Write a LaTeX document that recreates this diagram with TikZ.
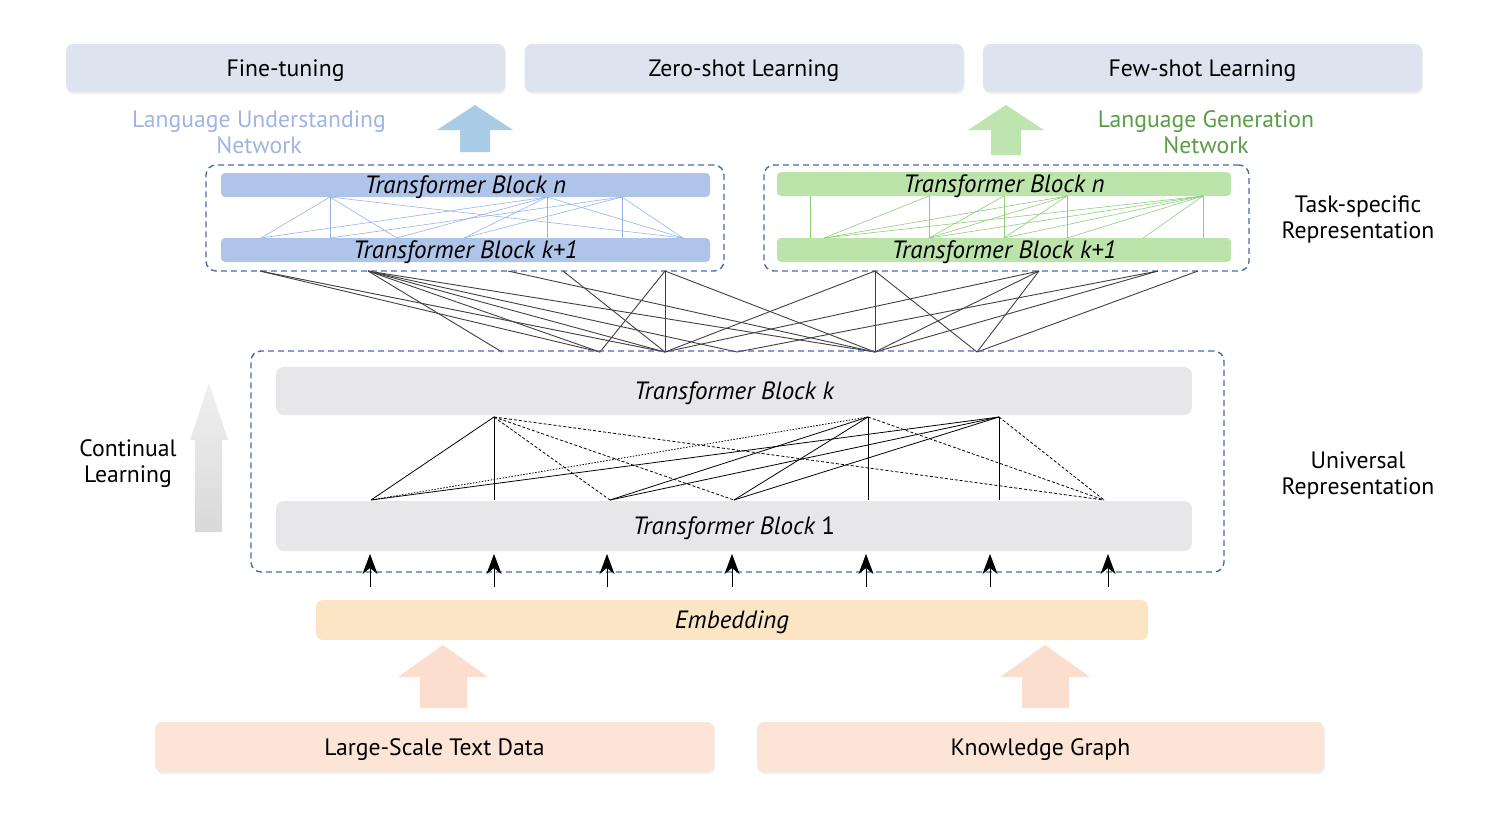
\documentclass[tikz,border=0pt]{standalone}
\usepackage{fontspec}
\setmainfont{PT Sans}
\usetikzlibrary{arrows.meta,shadows}
\definecolor{taskfill}{RGB}{221,228,240}
\definecolor{lutext}{RGB}{160,180,225}
\definecolor{luarrow}{RGB}{168,204,230}
\definecolor{lgtext}{RGB}{88,158,68}
\definecolor{lgarrow}{RGB}{190,228,175}
\definecolor{bluebar}{RGB}{174,196,232}
\definecolor{blueline}{RGB}{150,180,232}
\definecolor{greenbar}{RGB}{188,228,170}
\definecolor{greenline}{RGB}{140,205,120}
\definecolor{dashblue}{RGB}{70,108,168}
\definecolor{graybar}{RGB}{231,231,233}
\definecolor{embfill}{RGB}{251,229,196}
\definecolor{peach}{RGB}{252,222,206}
\definecolor{datafill}{RGB}{252,228,214}
\tikzset{
  softshadow/.style={drop shadow={opacity=0.12, shadow xshift=1pt, shadow yshift=-2pt}},
  centred/.style={text height=22pt, text depth=5pt},
  taskbox/.style={fill=taskfill, rounded corners=7pt, minimum width=439pt, minimum height=48pt, centred, softshadow},
  databox/.style={fill=datafill, rounded corners=7pt, minimum height=50pt, centred, softshadow},
  dashbox/.style={draw=dashblue, line width=1.4pt, dash pattern=on 6pt off 4pt, rounded corners=10pt},
  bar/.style={rounded corners=4pt, inner ysep=-0.5pt, text height=21pt, text depth=4pt, font=\fontsize{25}{28}\selectfont\itshape},
  graybox/.style={fill=graybar, rounded corners=8pt, minimum width=916pt, centred, font=\fontsize{25}{28}\selectfont\itshape},
  caption/.style={align=center, font=\fontsize{23.7}{26}\selectfont},
  cross/.style={draw=black!75, line width=0.9pt},
  unidash/.style={dash pattern=on 3pt off 2pt},
  unidot/.style={dash pattern=on 1.5pt off 1.5pt}
}
\begin{document}
\begin{tikzpicture}[x=1pt, y=-1pt, >=Stealth, line join=round, font=\fontsize{23.7}{28}\selectfont]
\useasboundingbox (0,0) rectangle (1496,828);
%% Tasks
\node[taskbox] (ft) at (285.5,68) {Fine-tuning};
\node[taskbox] (zs) at (744,68) {Zero-shot Learning};
\node[taskbox] (fs) at (1202.5,68) {Few-shot Learning};
\node[caption, text=lutext] (lu) at (259,132) {Language Understanding\\Network};
\node[caption, text=lgtext] (lg) at (1206,132) {Language Generation\\Network};
\fill[luarrow] (475,105) -- (513,130) -- (490,130) -- (490,152) -- (460,152) -- (460,130) -- (437,130) -- cycle;
\fill[lgarrow] (1006,105) -- (1044,130) -- (1021,130) -- (1021,155) -- (991,155) -- (991,130) -- (968,130) -- cycle;
%% Task-specific networks
\node[dashbox, minimum width=518pt, minimum height=106pt] (lunet) at (465,218) {};
\node[dashbox, minimum width=485pt, minimum height=106pt] (lgnet) at (1006.5,218) {};
\node[bar, fill=bluebar, minimum width=489pt, minimum height=24pt] (lun) at (465.5,185) {Transformer Block \textit{n}};
\node[bar, fill=bluebar, minimum width=489pt, minimum height=24pt] (luk) at (465.5,250) {Transformer Block \textit{k+1}};
\node[bar, fill=greenbar, minimum width=454pt, minimum height=24pt] (lgn) at (1004,184) {Transformer Block \textit{n}};
\node[bar, fill=greenbar, minimum width=454pt, minimum height=24pt] (lgk) at (1004,250) {Transformer Block \textit{k+1}};
\foreach \x in {330,547,622} \coordinate (lt\x) at (\x,197);
\foreach \x in {261,330,397,464,547,622,683} \coordinate (lb\x) at (\x,238);
\foreach \a/\b in {330/261,330/330,330/397,330/683,547/261,547/397,547/464,547/547,547/683,622/330,622/464,622/622,622/683}
  \draw[blueline, line width=0.6pt] (lt\a) -- (lb\b);
\foreach \x in {810,929,1004,1067,1203} \coordinate (gt\x) at (\x,196);
\foreach \x in {810,824,929,1004,1067,1143,1203} \coordinate (gb\x) at (\x,238);
\foreach \a/\b in {810/810,929/824,929/929,1004/929,1004/1004,1067/824,1067/929,1067/1004,1067/1067,1203/824,1203/929,1203/1004,1203/1067,1203/1143,1203/1203}
  \draw[greenline, line width=0.6pt] (gt\a) -- (gb\b);
\node[caption] (tsr) at (1358,219) {Task-specific\\Representation};
%% Links between the two levels
\foreach \x in {260,368,508,563,665,875,1039,1158,1198} \coordinate (t\x) at (\x,271);
\foreach \x in {502,600,665,737,875,977} \coordinate (b\x) at (\x,352);
\foreach \a/\b in {260/600,260/665,368/502,368/600,368/665,368/737,368/875,508/875,563/665,665/600,665/665,665/875,875/665,875/875,875/977,1039/665,1039/875,1039/977,1158/737,1158/875,1198/977}
  \draw[cross] (t\a) -- (b\b);
%% Universal network
\node[dashbox, minimum width=973pt, minimum height=221pt] (uni) at (737.5,461.5) {};
\node[graybox, minimum height=48pt] (blk) at (734,391) {Transformer Block \textit{k}};
\node[graybox, minimum height=50pt] (bl1) at (734,526) {Transformer Block \upshape 1};
\foreach \x in {494,868,999} \coordinate (ut\x) at (\x,417);
\foreach \x in {371,494,610,734,868,999,1104} \coordinate (ub\x) at (\x,500);
\foreach \a/\b/\s in {494/371/solid,494/494/solid,494/610/unidash,494/734/unidash,494/1104/unidash,
  868/371/unidot,868/610/solid,868/734/solid,868/868/solid,868/1104/unidash,
  999/371/solid,999/610/solid,999/734/solid,999/999/solid,999/1104/unidash}
  \draw[black, line width=0.8pt, \s] (ut\a) -- (ub\b);
\node[caption] (ur) at (1358,475) {Universal\\Representation};
\node[caption] (cl) at (128,464) {Continual\\Learning};
\shade[top color=gray!12, bottom color=gray!30] (209,383) -- (228,440) -- (222,440) -- (222,532) -- (195,532) -- (195,440) -- (190,440) -- cycle;
%% Embedding
\node[fill=embfill, rounded corners=7pt, minimum width=832pt, minimum height=40pt, centred, font=\fontsize{25}{28}\selectfont\itshape] (emb) at (732,620) {Embedding};
\foreach \x [count=\i] in {370,494,607,732,866,990,1108} {
  \coordinate (ea\i) at (\x,587);
  \coordinate (eb\i) at (\x,554);
  \draw[->, line width=0.8pt, >={Stealth[length=20pt, width=15pt, inset=6pt]}] (ea\i) -- (eb\i);
}
\fill[peach] (443,645) -- (488,677) -- (467,677) -- (467,708) -- (420,708) -- (420,677) -- (398,677) -- cycle;
\fill[peach] (1045,645) -- (1090,677) -- (1069,677) -- (1069,708) -- (1022,708) -- (1022,677) -- (1000,677) -- cycle;
%% Data
\node[databox, minimum width=559pt] (txt) at (434.5,747) {Large-Scale Text Data};
\node[databox, minimum width=567pt] (kg) at (1040.5,747) {Knowledge Graph};
\end{tikzpicture}
\end{document}
